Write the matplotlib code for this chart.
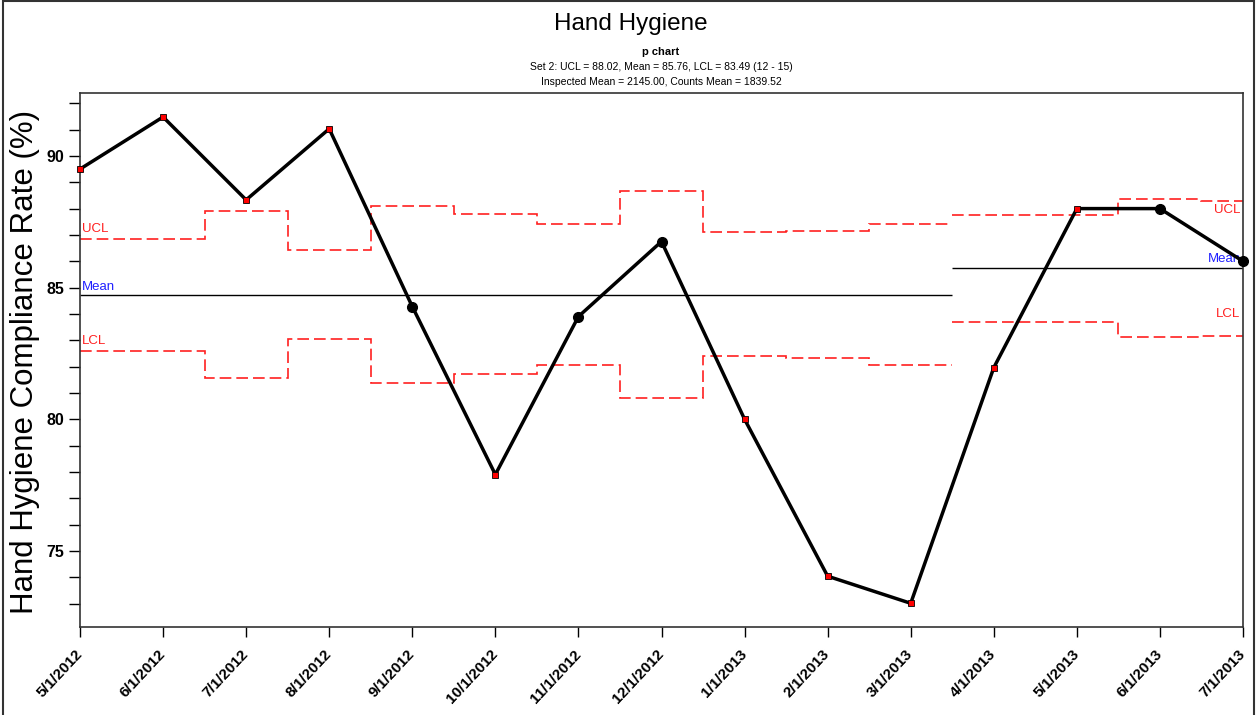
import matplotlib
matplotlib.use("Agg")
import matplotlib.pyplot as plt
from matplotlib.ticker import MultipleLocator
import numpy as np

plt.rcParams['font.family'] = ['Liberation Sans', 'DejaVu Sans']

months = ["5/1/2012", "6/1/2012", "7/1/2012", "8/1/2012", "9/1/2012",
          "10/1/2012", "11/1/2012", "12/1/2012", "1/1/2013", "2/1/2013",
          "3/1/2013", "4/1/2013", "5/1/2013", "6/1/2013", "7/1/2013"]
rate = [89.5, 91.48, 88.33, 91.03, 84.28, 77.9, 83.9, 86.75, 80.0, 74.04,
        73.01, 81.96, 88.0, 88.0, 86.0]
ucl = [86.86, 86.86, 87.92, 86.41, 88.11, 87.78, 87.42, 88.66, 87.1, 87.14,
       87.42, 87.77, 87.77, 88.37, 88.28]
lcl = [82.61, 82.61, 81.57, 83.05, 81.37, 81.70, 82.05, 80.81, 82.40, 82.33,
       82.05, 83.70, 83.70, 83.12, 83.18]
mean1 = 84.73
mean2 = 85.76
split = 11  # set 2 starts at 4/1/2013

x = np.arange(len(months))
rate = np.array(rate)
ucl = np.array(ucl)
lcl = np.array(lcl)
out = (rate > ucl) | (rate < lcl)

fig = plt.figure(figsize=(12.58, 7.15), dpi=100)
ax = fig.add_axes([80/1258, 1-627/715, (1243-80)/1258, (627-93)/715])

red = '#ff2020'
dash = (0, (7, 3))
for lo, hi in [(0, split), (split, len(x))]:
    edges = np.concatenate([[lo], np.arange(lo, hi - 1) + 0.5, [hi - 1]])
    if lo > 0:
        edges[0] = lo - 0.5
    if hi < len(x):
        edges[-1] = hi - 0.5
    ax.stairs(ucl[lo:hi], edges, baseline=None, color=red, lw=1.2, ls=dash)
    ax.stairs(lcl[lo:hi], edges, baseline=None, color=red, lw=1.2, ls=dash)

ax.hlines(mean1, 0, split - 0.5, color='black', lw=1)
ax.hlines(mean2, split - 0.5, len(x) - 1, color='black', lw=1)

ax.plot(x, rate, color='black', lw=2.5, zorder=5)
ax.plot(x[~out], rate[~out], 'o', color='black', ms=7, zorder=6, clip_on=False)
ax.plot(x[out], rate[out], 's', mfc='red', mec='black', mew=0.6, ms=5,
        zorder=6, clip_on=False)

# limit labels
blue = '#2020ff'
ax.text(0.02, ucl[0] + 0.12, "UCL", color=red, fontsize=9.5, ha='left', va='bottom')
ax.text(0.02, mean1 + 0.08, "Mean", color=blue, fontsize=9.5, ha='left', va='bottom')
ax.text(0.02, lcl[0] + 0.12, "LCL", color=red, fontsize=9.5, ha='left', va='bottom')
ax.text(len(x) - 1.03, ucl[-1] - 0.12, "UCL", color=red, fontsize=9.5,
        ha='right', va='top')
ax.text(len(x) - 1.03, mean2 + 0.08, "Mean", color=blue, fontsize=9.5,
        ha='right', va='bottom')
ax.text(len(x) - 1.03, lcl[-1] + 0.6, "LCL", color=red, fontsize=9.5,
        ha='right', va='bottom')

ax.set_xlim(0, len(x) - 1)
ax.set_ylim(72.11, 92.39)
ax.yaxis.set_major_locator(MultipleLocator(5))
ax.yaxis.set_minor_locator(MultipleLocator(1))
ax.tick_params(axis='y', which='both', direction='out', length=8, width=1)
ax.tick_params(axis='x', direction='out', length=7, width=1)
for lab in ax.get_yticklabels():
    lab.set_fontweight('bold')
    lab.set_fontsize(11.5)

ax.set_xticks(x)
ax.set_xticklabels(months, rotation=47, ha='right', va='center',
                   rotation_mode='anchor', fontweight='bold', fontsize=11)
ax.tick_params(axis='x', pad=11)

ax.set_ylabel("Hand Hygiene Compliance Rate (%)", fontsize=22.5)
ax.yaxis.set_label_coords(-(80 - 40) / 1163, 0.496)

for s in ax.spines.values():
    s.set_color('#333333')
    s.set_linewidth(1.2)

fig.text(0.5015, 1 - 24/715, "Hand Hygiene", fontsize=17.5, ha='center', va='center')
fig.text(661/1258, 1 - 52/715, "p chart", fontsize=8, fontweight='bold',
         ha='center', va='center')
fig.text(661/1258, 1 - 67/715,
         "Set 2: UCL = 88.02, Mean = 85.76, LCL = 83.49 (12 - 15)",
         fontsize=7.5, ha='center', va='center')
fig.text(661/1258, 1 - 82/715,
         "Inspected Mean = 2145.00, Counts Mean = 1839.52",
         fontsize=7.5, ha='center', va='center')

# outer frame
fig.add_artist(plt.Rectangle((0.002, -0.01), 0.995, 1.008, fill=False,
                             edgecolor='#333333', lw=1.5,
                             transform=fig.transFigure))

fig.savefig("out.png", dpi=100)
